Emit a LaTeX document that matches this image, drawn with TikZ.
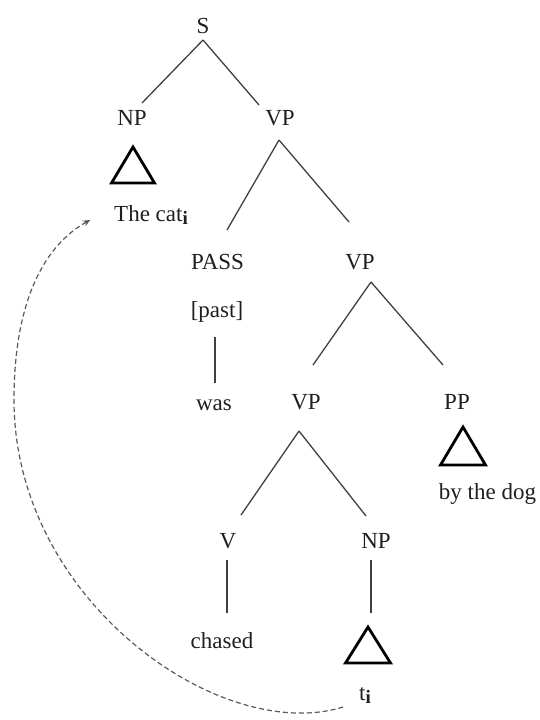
\documentclass[tikz,border=0pt]{standalone}
\usepackage{fontspec}
\setmainfont{Liberation Serif}
\usetikzlibrary{arrows.meta}
% bold co-index subscript
\newcommand\coidx{\raisebox{-3pt}{\fontsize{19}{19}\selectfont\bfseries i}}
\begin{document}
\begin{tikzpicture}[x=1pt,y=-1pt,
  lbl/.style={anchor=base, inner sep=0pt, outer sep=0pt, text height=15pt, text depth=0pt,
              font=\fontsize{23}{28}\selectfont, text=black!88},
  branch/.style={line width=1.3pt, draw=black!75},
  roofline/.style={line width=2.8pt, line join=miter, draw=black},
  trace/.style={line width=1.2pt, draw=black!65, dash pattern=on 5pt off 3pt,
                -{Stealth[length=7pt,width=6pt]}}]
\useasboundingbox (0,0) rectangle (539,720);

% category labels and words
\node[lbl] (S)      at (203,33)   {S};
\node[lbl] (NPa)    at (132,125)  {NP};
\node[lbl] (VPa)    at (280,125)  {VP};
\node[lbl] (cat)    at (151,221)  {The cat\coidx};
\node[lbl] (PASS)   at (217.5,269){PASS};
\node[lbl] (past)   at (217,317)  {[past]};
\node[lbl] (was)    at (214,410)  {was};
\node[lbl] (VPb)    at (360,269)  {VP};
\node[lbl] (VPc)    at (306,409)  {VP};
\node[lbl] (PP)     at (457,409)  {PP};
\node[lbl] (byd)    at (487.5,499){by the dog};
\node[lbl] (V)      at (228,548)  {V};
\node[lbl] (NPd)    at (376,548)  {NP};
\node[lbl] (chased) at (222,648)  {chased};
\node[lbl] (ti)     at (365,700)  {t\coidx};

% roof triangles (apex points)
\coordinate (triA) at (133,147);
\coordinate (triP) at (463,427);
\coordinate (triT) at (368,627);
\draw[roofline] (triA) -- ++(-21.5,36) -- ++(43,0) -- cycle;
\draw[roofline] (triP) -- ++(-22.5,38) -- ++(45,0) -- cycle;
\draw[roofline] (triT) -- ++(-22.5,36) -- ++(45,0) -- cycle;

% branches
\draw[branch] ([shift={(0,7)}]S.south) -- ([shift={(10,-7)}]NPa.north);
\draw[branch] ([shift={(0,7)}]S.south) -- ([shift={(-21,-5)}]VPa.north);
\draw[branch] ([shift={(-1,15)}]VPa.south) -- ([shift={(9.5,-24)}]PASS.north);
\draw[branch] ([shift={(-1,15)}]VPa.south) -- ([shift={(-11,-32)}]VPb.north);
\draw[branch] ([shift={(-2,20)}]past.south) -- ([shift={(1,-12)}]was.north);
\draw[branch] ([shift={(11,13)}]VPb.south) -- ([shift={(7,-29)}]VPc.north);
\draw[branch] ([shift={(11,13)}]VPb.south) -- ([shift={(-14,-29)}]PP.north);
\draw[branch] ([shift={(-7,22)}]VPc.south) -- ([shift={(13,-18)}]V.north);
\draw[branch] ([shift={(-7,22)}]VPc.south) -- ([shift={(-10,-17)}]NPd.north);
\draw[branch] ([shift={(-1,12)}]V.south) -- ([shift={(5,-20)}]chased.north);
\draw[branch] ([shift={(-5,12)}]NPd.south) -- ([shift={(3,-14)}]triT);

% movement trace: from the gap back to the moved NP
\draw[trace] ([shift={(-16,7)}]ti.south west)
  .. controls (220,745) and (14,600) .. (14,400)
  .. controls (14,300) and (45,245) .. ([shift={(-24,6.5)}]cat.west);
\end{tikzpicture}
\end{document}
